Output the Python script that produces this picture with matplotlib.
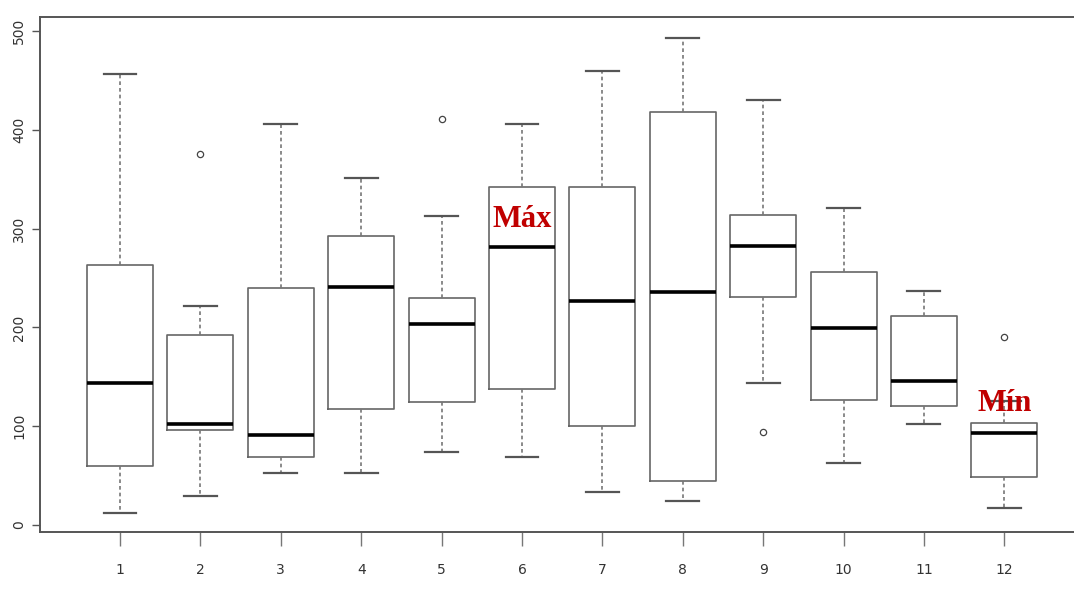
import numpy as np
import matplotlib.pyplot as plt

# boxplot stats
labels = [str(i) for i in range(1, 13)]
wlo = [12, 29, 53, 53, 74, 69, 33, 24, 144, 63, 102, 17]
q1 = [60, 96, 69, 117, 125, 138, 100, 45, 231, 127, 120, 49]
med = [144, 102, 91, 241, 203, 281, 227, 236, 282, 199, 146, 93]
q3 = [263, 192, 240, 292, 230, 342, 342, 418, 314, 256, 212, 103]
whi = [456, 222, 406, 351, 313, 406, 459, 493, 430, 321, 237, 126]
fliers = [[], [375], [], [], [411], [], [], [], [94], [], [], [190]]

stats = []
for i in range(12):
    stats.append(dict(label=labels[i], whislo=wlo[i], q1=q1[i], med=med[i],
                      q3=q3[i], whishi=whi[i], fliers=fliers[i]))

fig = plt.figure(figsize=(10.74, 5.92), dpi=100)
ax = fig.add_axes([40/1074, 60/592, 1 - 40/1074, 515/592])

edge = '#666666'
ax.bxp(stats, positions=range(1, 13), widths=0.82,
       boxprops=dict(color=edge, lw=1.2),
       whiskerprops=dict(color='#777777', lw=1.2, ls=(0, (2.2, 1.8))),
       capprops=dict(color='#555555', lw=1.6),
       medianprops=dict(color='black', lw=2.6),
       flierprops=dict(marker='o', markersize=4.5, markerfacecolor='none',
                       markeredgecolor='#444444', markeredgewidth=0.9),
       capwidths=0.41)

ax.set_xlim(0.005, 12.866)
ax.set_ylim(-7, 514)
ax.set_yticks([0, 100, 200, 300, 400, 500])
ax.set_xticks(range(1, 13))
ax.set_xticklabels(labels)

for s in ['left', 'top', 'bottom']:
    ax.spines[s].set_color('#555555')
    ax.spines[s].set_linewidth(1.4)
ax.spines['right'].set_visible(False)

ax.tick_params(axis='y', length=6, width=1, color='#555555', labelcolor='#333333',
               labelsize=10, pad=4)
ax.tick_params(axis='x', length=10, width=1, color='#777777', labelcolor='#333333',
               labelsize=10, pad=12)
for t in ax.get_yticklabels():
    t.set_rotation(90)
    t.set_va('center')

red = '#c00000'
ax.text(6, 309, 'Máx', color=red, fontsize=22, fontweight='bold',
        family='Liberation Serif', ha='center', va='center')
ax.text(12, 123, 'Mín', color=red, fontsize=22, fontweight='bold',
        family='Liberation Serif', ha='center', va='center')

fig.savefig('out.png', dpi=100)
